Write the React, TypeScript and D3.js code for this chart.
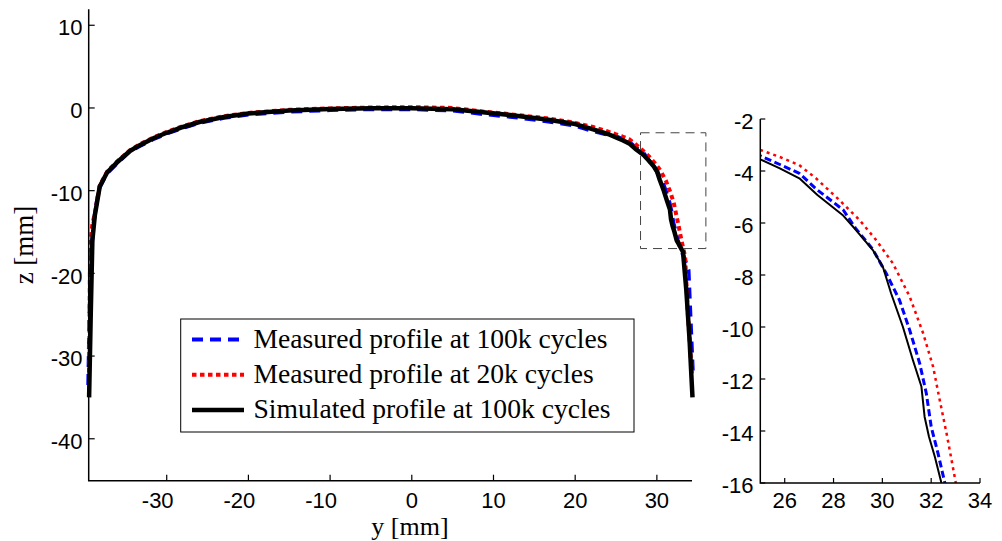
import React from "react";
import * as d3 from "d3";

// measured profile at 100k cycles (blue dashed)
const meas100kY = [-39.6, -39.45, -39.2, -38.9, -38.3, -37.4, -36.2, -34.6, -33.3, -31.5, -30, -28, -26, -23, -20, -15, -10, -5, 0, 5, 8.4, 12, 16.5, 20, 22.2, 24, 25, 25.8, 26.6, 27.3, 28.4, 28.9, 29.6, 30.16, 30.7, 31.12, 31.53, 31.8, 32.0, 32.28, 32.56, 32.9, 33.3, 33.87, 34.1, 34.4];
const meas100kZ = [-33.5, -25, -17, -13.5, -9.8, -8.0, -6.8, -5.3, -4.6, -3.7, -3.1, -2.4, -1.8, -1.2, -0.8, -0.45, -0.25, -0.15, -0.15, -0.3, -0.7, -1.05, -1.6, -2.15, -2.8, -3.25, -3.42, -3.75, -4.09, -4.7, -5.5, -6.2, -7.0, -7.94, -8.96, -10.12, -11.4, -12.55, -13.83, -14.86, -16.0, -17.0, -18.0, -19.6, -25, -32];

// measured profile at 20k cycles (red dotted)
const meas20kY = [-39.5, -39.4, -39.3, -39.1, -38.8, -38.2, -37.3, -36.1, -34.5, -33.3, -31.5, -30, -28, -26, -23, -20, -15, -10, -5, 0, 5, 8.4, 12, 16.5, 20, 22.2, 24, 25, 25.77, 26.59, 27.28, 28.24, 29.06, 29.74, 30.43, 31.12, 31.67, 32.08, 32.35, 32.63, 33.01, 33.46, 33.8, 34.28];
const meas20kZ = [-32, -20, -16, -14, -12.8, -9.4, -7.7, -6.5, -5.1, -4.4, -3.5, -2.9, -2.2, -1.6, -1.0, -0.6, -0.22, -0.05, 0.05, 0.1, 0, -0.4, -0.75, -1.25, -1.8, -2.3, -2.85, -3.19, -3.45, -3.77, -4.28, -5.12, -5.88, -6.65, -7.55, -8.83, -10.24, -11.53, -12.81, -14.09, -16.0, -18, -25, -32.1];

// simulated profile at 100k cycles (black solid)
const simY = [-39.5, -39.3, -39.1, -38.8, -38.2, -37.3, -36.1, -34.5, -33.3, -31.5, -30, -28, -26, -23, -20, -15, -10, -5, 0, 5, 8.4, 12, 16.5, 20, 22.2, 24, 25, 25.8, 26.6, 27.34, 28.37, 28.92, 29.61, 30.02, 30.36, 30.84, 31.25, 31.6, 31.73, 31.91, 32.15, 32.42, 32.65, 33.2, 33.6, 34.0, 34.36];
const simZ = [-35, -25, -16, -13, -9.5, -7.8, -6.6, -5.2, -4.5, -3.6, -3.0, -2.3, -1.7, -1.1, -0.67, -0.3, -0.12, -0.03, -0.02, -0.15, -0.5, -0.85, -1.4, -1.95, -2.6, -3.15, -3.55, -3.9, -4.28, -4.92, -5.69, -6.27, -7.04, -7.68, -8.71, -9.99, -11.27, -12.29, -13.45, -14.22, -14.99, -16.0, -16.4, -17.4, -22, -28, -35];

const legendLabels = [
  "Measured profile at 100k cycles",
  "Measured profile at 20k cycles",
  "Simulated profile at 100k cycles",
];

const mainXTicks = [-30, -20, -10, 0, 10, 20, 30];
const mainYTicks = [-40, -30, -20, -10, 0, 10];
const insetXTicks = [26, 28, 30, 32, 34];
const insetYTicks = [-2, -4, -6, -8, -10, -12, -14, -16];

// zoom box drawn on the main axes
const zoomBoxY = [28, 36];
const zoomBoxZ = [-17, -3];

const toPts = (ys: number[], zs: number[]): [number, number][] =>
  ys.map((y, i) => [y, zs[i]]);

const series = [
  { pts: toPts(meas100kY, meas100kZ), color: "#0000ff", main: { w: 4, dash: "11,7" }, inset: { w: 3, dash: "7,3.5" } },
  { pts: toPts(meas20kY, meas20kZ), color: "#ff0000", main: { w: 4, dash: "4.5,3.5" }, inset: { w: 2.5, dash: "3,4" } },
  { pts: toPts(simY, simZ), color: "#000000", main: { w: 4.5, dash: "none" }, inset: { w: 2, dash: "none" } },
];

const sans = "'Liberation Sans', Arial, sans-serif";
const serif = "'Liberation Serif', 'Times New Roman', serif";

const App: React.FC = () => {
  const x = d3.scaleLinear().domain([-39.55, 34.3]).range([88.7, 692]);
  const y = d3.scaleLinear().domain([-45.07, 11.93]).range([480.7, 9.3]);
  const xi = d3.scaleLinear().domain([25, 34]).range([760.3, 980]);
  const yi = d3.scaleLinear().domain([-16, -2]).range([483, 119]);

  const line = d3.line<[number, number]>().x((d) => x(d[0])).y((d) => y(d[1]));
  const lineI = d3.line<[number, number]>().x((d) => xi(d[0])).y((d) => yi(d[1]));

  const [x0, x1] = x.range();
  const [y0, y1] = y.range();
  const [xi0, xi1] = xi.range();
  const [yi0, yi1] = yi.range();

  return (
    <svg width={1002} height={541} style={{ position: "absolute", left: 0, top: 0, background: "#fff" }}>
      <defs>
        <clipPath id="insetClip">
          <rect x={xi0} y={yi1} width={xi1 - xi0} height={yi0 - yi1} />
        </clipPath>
      </defs>

      {/* main plot lines */}
      {series.map((s, i) => (
        <path key={i} d={line(s.pts) ?? ""} fill="none" stroke={s.color}
          strokeWidth={s.main.w} strokeDasharray={s.main.dash} strokeLinejoin="round" />
      ))}

      {/* zoom box */}
      <rect x={x(zoomBoxY[0])} y={y(zoomBoxZ[1])} width={x(zoomBoxY[1]) - x(zoomBoxY[0])}
        height={y(zoomBoxZ[0]) - y(zoomBoxZ[1])} fill="none" stroke="#444" strokeWidth={1} strokeDasharray="9,6" />

      {/* main axes */}
      <path d={`M${x0},${y1}V${y0}H${x1}`} fill="none" stroke="#000" strokeWidth={1.5} />
      {mainXTicks.map((t) => (
        <g key={t}>
          <line x1={x(t)} x2={x(t)} y1={y0} y2={y0 - 6} stroke="#000" strokeWidth={1.2} />
          <text x={x(t) + (t < 0 ? -9 : 0)} y={507.5} textAnchor="middle" fontFamily={sans} fontSize={22}>{t}</text>
        </g>
      ))}
      {mainYTicks.map((t) => (
        <g key={t}>
          <line x1={x0} x2={x0 + 6} y1={y(t)} y2={y(t)} stroke="#000" strokeWidth={1.2} />
          <text x={82.5} y={y(t) + 2.5} dy="0.35em" textAnchor="end" fontFamily={sans} fontSize={22}>{t}</text>
        </g>
      ))}
      <text x={410} y={535} textAnchor="middle" fontFamily={serif} fontSize={26}>y [mm]</text>
      <text transform="translate(33,245) rotate(-90)" textAnchor="middle" fontFamily={serif} fontSize={27}>z [mm]</text>

      {/* legend */}
      <rect x={180.7} y={319} width={453.3} height={113} fill="#fff" stroke="#000" strokeWidth={1} />
      {series.map((s, i) => (
        <g key={i}>
          <line x1={192} x2={244} y1={339.5 + i * 35.3} y2={339.5 + i * 35.3} stroke={s.color}
            strokeWidth={s.main.w} strokeDasharray={s.main.dash} />
          <text x={253.5} y={348.3 + i * 35} fontFamily={serif} fontSize={27.6}>{legendLabels[i]}</text>
        </g>
      ))}

      {/* inset */}
      <g clipPath="url(#insetClip)">
        {series.map((s, i) => (
          <path key={i} d={lineI(s.pts) ?? ""} fill="none" stroke={s.color}
            strokeWidth={s.inset.w} strokeDasharray={s.inset.dash} strokeLinejoin="round" />
        ))}
      </g>
      <path d={`M${xi0},${yi1}V${yi0}H${xi1}`} fill="none" stroke="#000" strokeWidth={1.5} />
      {insetXTicks.map((t) => (
        <g key={t}>
          <line x1={xi(t)} x2={xi(t)} y1={yi0} y2={yi0 - 5} stroke="#000" strokeWidth={1.2} />
          <text x={xi(t)} y={507.5} textAnchor="middle" fontFamily={sans} fontSize={22}>{t}</text>
        </g>
      ))}
      {insetYTicks.map((t) => (
        <g key={t}>
          <line x1={xi0} x2={xi0 + 5} y1={yi(t)} y2={yi(t)} stroke="#000" strokeWidth={1.2} />
          <text x={753.5} y={yi(t) + 2.5} dy="0.35em" textAnchor="end" fontFamily={sans} fontSize={22}>{t}</text>
        </g>
      ))}
    </svg>
  );
};

export default App;
